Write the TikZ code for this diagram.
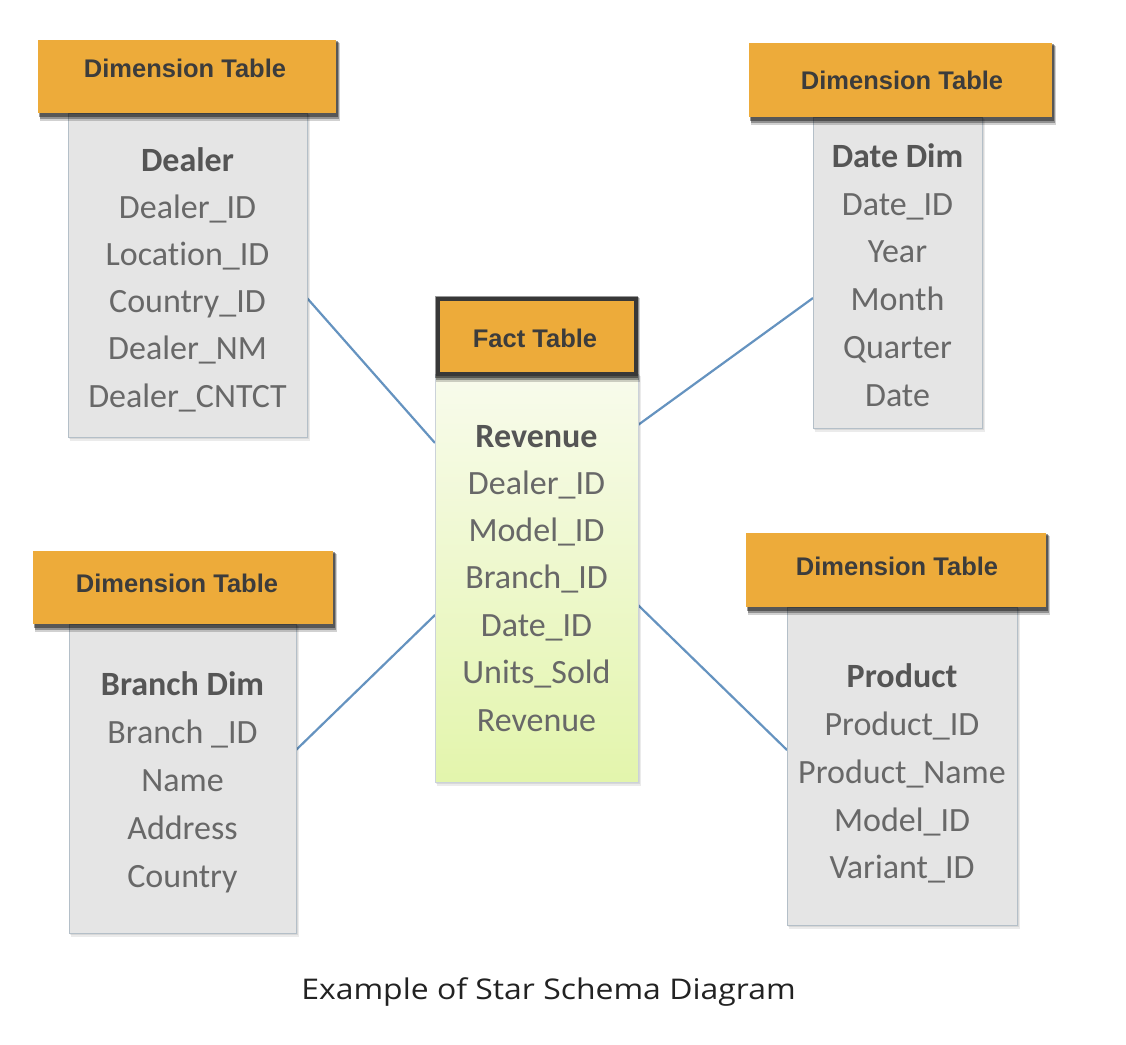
\documentclass[tikz,border=0pt]{standalone}
\usepackage{fontspec}
\setmainfont{Carlito}[Ligatures={NoCommon}]
\newfontfamily\hdrfont{Liberation Sans}
\newfontfamily\capfont{Open Sans}[FakeStretch=1.12]
\definecolor{orng}{HTML}{EDAB3A}
\definecolor{hdrtxt}{HTML}{3C3C3C}
\definecolor{bodyfill}{HTML}{E5E5E5}
\definecolor{bodyline}{HTML}{B4BFC8}
\definecolor{rowtxt}{HTML}{686868}
\definecolor{titletxt}{HTML}{555555}
\definecolor{linkblue}{HTML}{6593C0}
\definecolor{facttop}{HTML}{F8FBEC}
\definecolor{factbot}{HTML}{E3F5AC}
\definecolor{captxt}{HTML}{222222}
\begin{document}
\begin{tikzpicture}[x=1pt,y=-1pt,
  bodybox/.style={draw=bodyline, line width=1pt, fill=bodyfill},
  hdrbox/.style={fill=orng},
  hdrlabel/.style={font=\hdrfont\bfseries\fontsize{25.5}{30}\selectfont, text=hdrtxt, anchor=base, inner sep=0pt},
  rowlabel/.style={font=\fontsize{34}{40}\selectfont, text=rowtxt, anchor=base, inner sep=0pt},
  titlelabel/.style={font=\bfseries\fontsize{34}{40}\selectfont, text=titletxt, anchor=base, inner sep=0pt},
  link/.style={draw=linkblue, line width=2.2pt}
]
\useasboundingbox (0,0) rectangle (1126,1044);
\fill[white] (0,0) rectangle (1126,1044);

% ---------- shadows helper macro
\newcommand{\hdrshadow}[4]{%
  \fill[black, opacity=0.18] (#1+2,#2+3) rectangle (#3+4,#4+8);
  \fill[black, opacity=0.30] (#1+2,#2+2) rectangle (#3+3,#4+6);
  \fill[black, opacity=0.40] (#1+1,#2+1) rectangle (#3+2,#4+4);
}
\newcommand{\bodyshadow}[4]{%
  \fill[black, opacity=0.08] (#1+2,#2+2) rectangle (#3+3,#4+4);
  \fill[black, opacity=0.08] (#1+1,#2+1) rectangle (#3+2,#4+2);
}

% ---------- Connectors (behind boxes)
\coordinate (dealerR) at (307,298);
\coordinate (factLU) at (435,443);
\coordinate (dateL) at (813,298);
\coordinate (factRU) at (638,425);
\coordinate (branchR) at (296,750);
\coordinate (factLD) at (435,615);
\coordinate (productL) at (787,750);
\coordinate (factRD) at (638,605);
\draw[link] (dealerR) -- (factLU);
\draw[link] (dateL) -- (factRU);
\draw[link] (branchR) -- (factLD);
\draw[link] (productL) -- (factRD);

% ---------- Dealer
\bodyshadow{68}{113}{307}{437}
\node[bodybox, anchor=north west, minimum width=239pt, minimum height=324pt, inner sep=0pt] (dealer) at (68,113) {};
\hdrshadow{38}{40}{336}{113}
\node[hdrbox, anchor=north west, minimum width=298pt, minimum height=73pt, inner sep=0pt] (dealerH) at (38,40) {};
\node[hdrlabel] (dealerHT) at (185,77) {Dimension Table};
\node[titlelabel] (dealerT) at (187.5,171) {Dealer};
\node[rowlabel] (dealer1) at (187.5,218) {Dealer\_ID};
\node[rowlabel] (dealer2) at (187.5,265) {Location\_ID};
\node[rowlabel] (dealer3) at (187.5,312) {Country\_ID};
\node[rowlabel] (dealer4) at (187.5,359) {Dealer\_NM};
\node[rowlabel] (dealer5) at (187.5,407) {Dealer\_CNTCT};

% ---------- Date Dim
\bodyshadow{813}{117}{982}{428}
\node[bodybox, anchor=north west, minimum width=169pt, minimum height=311pt, inner sep=0pt] (date) at (813,117) {};
\hdrshadow{749}{43}{1052}{117}
\node[hdrbox, anchor=north west, minimum width=303pt, minimum height=74pt, inner sep=0pt] (dateH) at (749,43) {};
\node[hdrlabel] (dateHT) at (902,89) {Dimension Table};
\node[titlelabel] (dateT) at (897.5,167) {Date Dim};
\node[rowlabel] (date1) at (897.5,215) {Date\_ID};
\node[rowlabel] (date2) at (897.5,262) {Year};
\node[rowlabel] (date3) at (897.5,310) {Month};
\node[rowlabel] (date4) at (897.5,358) {Quarter};
\node[rowlabel] (date5) at (897.5,406) {Date};

% ---------- Branch Dim
\bodyshadow{69}{624}{296}{933}
\node[bodybox, anchor=north west, minimum width=227pt, minimum height=309pt, inner sep=0pt] (branch) at (69,624) {};
\hdrshadow{33}{551}{333}{624}
\node[hdrbox, anchor=north west, minimum width=300pt, minimum height=73pt, inner sep=0pt] (branchH) at (33,551) {};
\node[hdrlabel] (branchHT) at (177,592) {Dimension Table};
\node[titlelabel] (branchT) at (182.5,695) {Branch Dim};
\node[rowlabel] (branch1) at (182.5,743) {Branch \_ID};
\node[rowlabel] (branch2) at (182.5,791) {Name};
\node[rowlabel] (branch3) at (182.5,839) {Address};
\node[rowlabel] (branch4) at (182.5,887) {Country};

% ---------- Product
\bodyshadow{787}{607}{1017}{925}
\node[bodybox, anchor=north west, minimum width=230pt, minimum height=318pt, inner sep=0pt] (product) at (787,607) {};
\hdrshadow{746}{533}{1046}{607}
\node[hdrbox, anchor=north west, minimum width=300pt, minimum height=74pt, inner sep=0pt] (productH) at (746,533) {};
\node[hdrlabel] (productHT) at (897,575) {Dimension Table};
\node[titlelabel] (productT) at (902,687) {Product};
\node[rowlabel] (product1) at (902,735) {Product\_ID};
\node[rowlabel] (product2) at (902,783) {Product\_Name};
\node[rowlabel] (product3) at (902,831) {Model\_ID};
\node[rowlabel] (product4) at (902,878) {Variant\_ID};

% ---------- Fact
\bodyshadow{435}{374}{638}{782}
\node[draw=bodyline!70, line width=1pt, top color=facttop, bottom color=factbot, anchor=north west, minimum width=203pt, minimum height=408pt, inner sep=0pt] (fact) at (435,374) {};
\hdrshadow{434}{295}{636}{374}
\node[hdrbox, draw=black!78, line width=4pt, anchor=north west, minimum width=198pt, minimum height=75pt, inner sep=0pt] (factH) at (436,297) {};
\node[hdrlabel] (factHT) at (535,347) {Fact Table};
\node[titlelabel] (factT) at (536.5,447) {Revenue};
\node[rowlabel] (fact1) at (536.5,494) {Dealer\_ID};
\node[rowlabel] (fact2) at (536.5,541) {Model\_ID};
\node[rowlabel] (fact3) at (536.5,588) {Branch\_ID};
\node[rowlabel] (fact4) at (536.5,636) {Date\_ID};
\node[rowlabel] (fact5) at (536.5,683) {Units\_Sold};
\node[rowlabel] (fact6) at (536.5,731) {Revenue};

% ---------- Caption
\node[font=\capfont\fontsize{28.5}{34}\selectfont, text=captxt, anchor=base, inner sep=0pt] (caption) at (548.5,999) {Example of Star Schema Diagram};
\end{tikzpicture}
\end{document}
